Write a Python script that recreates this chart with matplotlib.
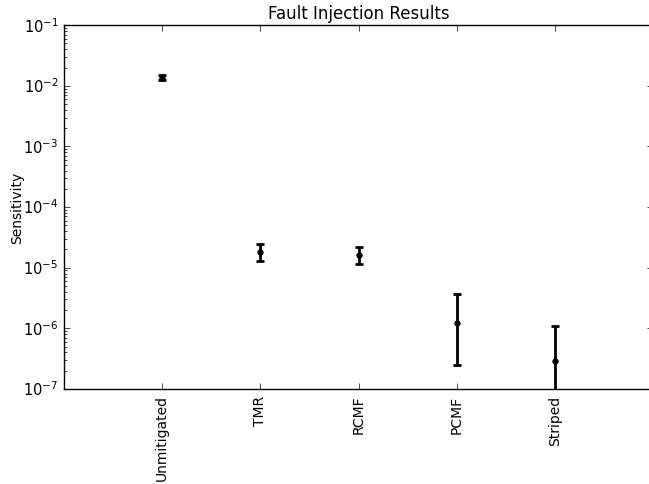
import matplotlib
matplotlib.use("Agg")
import matplotlib.pyplot as plt
import numpy as np

plt.style.use('classic')

categories = ["Unmitigated", "TMR", "RCMF", "PCMF", "Striped"]
values = [1.36e-2, 1.81e-5, 1.64e-5, 1.24e-6, 2.93e-7]
upper = [1.48e-2, 2.45e-5, 2.2e-5, 3.65e-6, 1.08e-6]
lower = [1.25e-2, 1.3e-5, 1.14e-5, 2.5e-7, 1e-9]

x = np.arange(1, len(categories) + 1)
vals = np.array(values)
yerr = [vals - np.array(lower), np.array(upper) - vals]

fig = plt.figure(figsize=(6.49, 4.85), dpi=100, facecolor='white')
ax = fig.add_axes([0.0986, 0.196, 0.908, 0.75])
ax.errorbar(x, vals, yerr=yerr, fmt='o', color='black', ecolor='black',
            markersize=4, elinewidth=2, capsize=3, capthick=2, markeredgecolor='black')
ax.set_yscale('log')
ax.set_ylim(1e-7, 1e-1)
ax.set_xlim(0, 6)
ax.set_xticks(x)
ax.set_xticklabels(categories, rotation=90, fontsize=10)
ax.tick_params(axis='y', labelsize=10.5)
ax.set_ylabel("Sensitivity", fontsize=10)
ax.yaxis.set_label_coords(-0.068, 0.5)
ax.set_title("Fault Injection Results", fontsize=12)

fig.savefig("out.png", dpi=100, facecolor='white')
